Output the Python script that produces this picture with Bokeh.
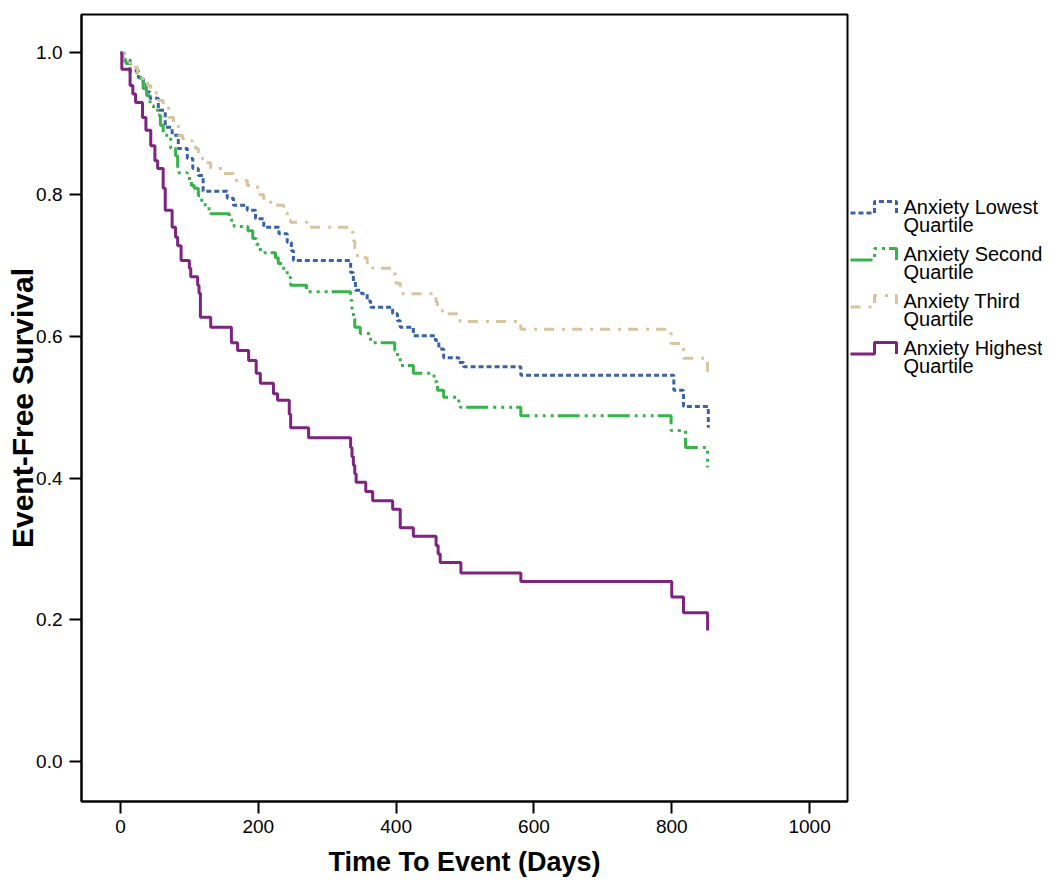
from bokeh.plotting import figure
from bokeh.layouts import row
from bokeh.models import Range1d, FixedTicker, PrintfTickFormatter
from bokeh.core.properties import value
from bokeh.embed import file_html
from bokeh.resources import INLINE

# ---------------- data ----------------
series_names = ["Anxiety Lowest Quartile", "Anxiety Second Quartile",
                "Anxiety Third Quartile", "Anxiety Highest Quartile"]

lowest_t = [0, 5, 14, 26, 33, 38, 43, 55, 65, 75, 84, 97, 105, 113, 120, 155, 164,
            184, 196, 208, 230, 242, 248, 251, 334, 338, 341, 350, 358, 363, 395,
            402, 406, 425, 457, 462, 469, 491, 498, 581, 803, 817, 853]
lowest_s = [1.0, 0.990, 0.975, 0.965, 0.955, 0.945, 0.936, 0.919, 0.895, 0.884, 0.865,
            0.851, 0.837, 0.827, 0.805, 0.795, 0.785, 0.778, 0.766, 0.754, 0.745,
            0.733, 0.721, 0.707, 0.690, 0.678, 0.665, 0.660, 0.650, 0.641, 0.632,
            0.622, 0.613, 0.601, 0.594, 0.582, 0.570, 0.563, 0.557, 0.545, 0.524,
            0.501, 0.471]

second_t = [0, 3, 8, 14, 29, 33, 38, 43, 48, 54, 58, 62, 73, 80, 83, 97, 103, 107,
            113, 118, 123, 131, 158, 165, 185, 192, 197, 203, 225, 229, 237, 242,
            247, 270, 334, 336, 338, 340, 348, 363, 398, 402, 406, 425, 455, 460,
            469, 491, 493, 581, 799, 820, 852]
second_s = [1.0, 0.990, 0.985, 0.972, 0.964, 0.950, 0.940, 0.926, 0.922, 0.912, 0.898,
            0.884, 0.865, 0.855, 0.831, 0.823, 0.813, 0.809, 0.799, 0.790, 0.780,
            0.773, 0.764, 0.755, 0.749, 0.738, 0.730, 0.718, 0.711, 0.703, 0.693,
            0.683, 0.672, 0.663, 0.651, 0.637, 0.625, 0.613, 0.604, 0.591, 0.580,
            0.570, 0.559, 0.548, 0.536, 0.524, 0.514, 0.506, 0.500, 0.488, 0.467,
            0.443, 0.415]

third_t = [0, 4, 14, 25, 32, 39, 44, 48, 55, 62, 70, 77, 84, 90, 99, 104, 109, 113,
           119, 131, 150, 164, 184, 199, 208, 218, 237, 242, 247, 271, 336, 338,
           340, 344, 358, 366, 396, 400, 406, 458, 460, 467, 493, 581, 799, 817, 852]
third_s = [1.0, 0.990, 0.980, 0.970, 0.964, 0.954, 0.950, 0.944, 0.933, 0.926, 0.909,
           0.902, 0.884, 0.879, 0.876, 0.869, 0.865, 0.855, 0.845, 0.837, 0.830,
           0.820, 0.813, 0.800, 0.792, 0.785, 0.775, 0.764, 0.761, 0.754, 0.747,
           0.735, 0.721, 0.711, 0.704, 0.696, 0.688, 0.675, 0.660, 0.648, 0.637,
           0.632, 0.621, 0.610, 0.590, 0.569, 0.548]

highest_t = [0, 2, 14, 18, 22, 32, 37, 44, 50, 54, 62, 65, 75, 80, 83, 88, 100, 102,
             112, 114, 116, 131, 161, 170, 186, 197, 203, 222, 228, 245, 247, 273,
             334, 336, 338, 340, 342, 356, 366, 395, 406, 425, 458, 461, 464, 494,
             581, 800, 817, 852]
highest_s = [1.0, 0.977, 0.954, 0.942, 0.930, 0.909, 0.891, 0.869, 0.848, 0.837, 0.809,
             0.778, 0.754, 0.740, 0.728, 0.707, 0.696, 0.684, 0.672, 0.661, 0.627,
             0.613, 0.591, 0.580, 0.566, 0.548, 0.534, 0.519, 0.510, 0.490, 0.471,
             0.457, 0.443, 0.430, 0.418, 0.406, 0.394, 0.381, 0.368, 0.356, 0.330,
             0.318, 0.305, 0.293, 0.281, 0.266, 0.254, 0.232, 0.210, 0.185]

x_ticks = [0, 200, 400, 600, 800, 1000]
y_ticks = [0.0, 0.2, 0.4, 0.6, 0.8, 1.0]
x_label = "Time To Event (Days)"
y_label = "Event-Free Survival"

# ---------------- styles ----------------
colors = ["#3A62AC", "#36B34A", "#D8C49E", "#7D2380"]
dashes = ["5 3", "22 5 3 5 3 5 3 4", "10 8 3 7", "solid"]
FONT = "Liberation Sans"

BORDER_TOP = 14
BORDER_BOTTOM = 84
FRAME_H = 787
FIG_H = BORDER_TOP + FRAME_H + BORDER_BOTTOM

p = figure(width=849, height=FIG_H, title=None,
           x_range=Range1d(-56.5, 1055), y_range=Range1d(-0.0565, 1.0543),
           output_backend="svg", toolbar_location=None,
           min_border_left=81, min_border_right=2, min_border_top=BORDER_TOP,
           min_border_bottom=BORDER_BOTTOM)
p.grid.visible = False
p.outline_line_color = "black"
p.outline_line_width = 2
p.background_fill_color = "white"
p.border_fill_color = "white"

for ax in (p.xaxis[0], p.yaxis[0]):
    ax.axis_line_width = 2
    ax.axis_line_color = "black"
    ax.major_tick_line_width = 2
    ax.major_tick_line_color = "black"
    ax.major_tick_out = 12
    ax.major_tick_in = 0
    ax.minor_tick_out = 0
    ax.minor_tick_in = 0
    ax.major_label_text_font = FONT
    ax.major_label_text_font_size = "19px"
    ax.major_label_text_color = "black"
    ax.axis_label_text_font = FONT
    ax.axis_label_text_font_style = "bold"
    ax.axis_label_text_color = "black"

p.xaxis.axis_label_text_font_size = "27px"
p.yaxis.axis_label_text_font_size = "30px"
p.xaxis.ticker = FixedTicker(ticks=x_ticks)
p.yaxis.ticker = FixedTicker(ticks=y_ticks)
p.yaxis.formatter = PrintfTickFormatter(format="%.1f")
p.xaxis.axis_label = x_label
p.yaxis.axis_label = y_label
p.xaxis.major_label_standoff = 6
p.yaxis.major_label_standoff = 7
p.xaxis.axis_label_standoff = 11
p.yaxis.axis_label_standoff = -6

all_t = [lowest_t, second_t, third_t, highest_t]
all_s = [lowest_s, second_s, third_s, highest_s]
for t, s, c, d in zip(all_t, all_s, colors, dashes):
    p.step(t, s, mode="after", line_color=c, line_width=3, line_dash=d)

# ---------------- legend (separate panel to the right, screen-like coords) ----
lg = figure(width=193, height=FIG_H, title=None,
            x_range=Range1d(849, 1042), y_range=Range1d(BORDER_TOP + FRAME_H, BORDER_TOP),
            output_backend="svg", toolbar_location=None,
            min_border_left=0, min_border_right=0,
            min_border_top=BORDER_TOP, min_border_bottom=BORDER_BOTTOM,
            x_axis_location=None, y_axis_location=None)
lg.grid.visible = False
lg.outline_line_color = None
lg.background_fill_color = "white"
lg.border_fill_color = "white"

baselines = [206, 253, 300, 347]
for name, c, d, b in zip(series_names, colors, dashes, baselines):
    first, second = name.rsplit(" ", 1)
    lg.line([850, 874, 874, 896, 896], [b + 6.5, b + 6.5, b - 5, b - 5, b + 6.5],
            line_color=c, line_width=3, line_dash=d)
    lg.text(x=[903, 903], y=[b, b + 18], text=[first, second],
            text_baseline="alphabetic", text_align="left",
            text_font=value(FONT), text_font_size="20px", text_color="black")

layout = row(p, lg)
open("out.html", "w").write(file_html(layout, INLINE))
